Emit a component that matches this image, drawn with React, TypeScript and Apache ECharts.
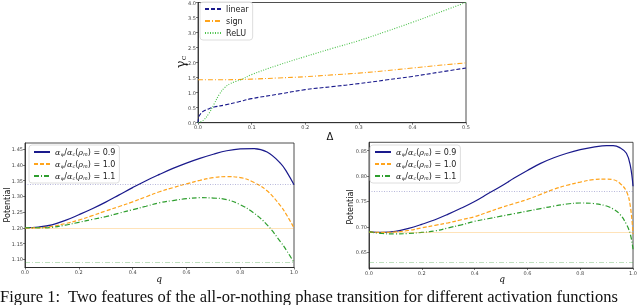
import React, { useEffect, useRef } from 'react';
import * as echarts from 'echarts';

// ---------- Top chart data (gamma_c vs Delta) ----------
const topNames = ['linear', 'sign', 'ReLU'];
const deltaLinear = [0, 0.002, 0.005, 0.01, 0.02, 0.03, 0.05, 0.075, 0.1, 0.15, 0.2, 0.25, 0.3, 0.35, 0.4, 0.45, 0.5];
const linearVals = [0.0, 0.22, 0.3, 0.38, 0.46, 0.52, 0.59, 0.69, 0.8, 0.95, 1.1, 1.2, 1.3, 1.42, 1.54, 1.68, 1.82];
const deltaSign = [0, 0.05, 0.1, 0.15, 0.2, 0.25, 0.3, 0.35, 0.4, 0.45, 0.5];
const signVals = [1.43, 1.43, 1.45, 1.49, 1.53, 1.59, 1.65, 1.73, 1.82, 1.91, 1.99];
const deltaRelu = [0, 0.01, 0.02, 0.03, 0.04, 0.05, 0.06, 0.07, 0.08, 0.1, 0.15, 0.2, 0.25, 0.3, 0.35, 0.4, 0.45, 0.5];
const reluVals = [0, 0.08, 0.3, 0.62, 0.95, 1.17, 1.3, 1.37, 1.43, 1.6, 1.92, 2.2, 2.47, 2.73, 3.03, 3.34, 3.67, 4.0];

// ---------- Bottom charts (Potential vs q) ----------
const ratios = ['0.9', '1.0', '1.1'];
const qLeft = [0, 0.05, 0.1, 0.15, 0.2, 0.25, 0.3, 0.35, 0.4, 0.45, 0.5, 0.55, 0.6, 0.65, 0.7, 0.75, 0.8, 0.85, 0.9, 0.95, 0.975, 1.0];
const leftBlue = [1.2, 1.203, 1.21, 1.224, 1.242, 1.261, 1.282, 1.305, 1.328, 1.35, 1.37, 1.389, 1.406, 1.421, 1.434, 1.445, 1.451, 1.452, 1.441, 1.405, 1.375, 1.337];
const leftOrange = [1.2, 1.201, 1.205, 1.214, 1.225, 1.239, 1.254, 1.268, 1.283, 1.299, 1.315, 1.328, 1.34, 1.351, 1.36, 1.363, 1.36, 1.345, 1.318, 1.27, 1.238, 1.2];
const leftGreen = [1.2, 1.2, 1.202, 1.209, 1.218, 1.227, 1.236, 1.247, 1.258, 1.269, 1.28, 1.287, 1.293, 1.296, 1.295, 1.29, 1.274, 1.248, 1.21, 1.156, 1.125, 1.09];
const leftLevels = [1.337, 1.2, 1.09];
const leftYTicks = [1.1, 1.15, 1.2, 1.25, 1.3, 1.35, 1.4, 1.45];

const qRight = [0, 0.05, 0.1, 0.15, 0.2, 0.25, 0.3, 0.35, 0.4, 0.45, 0.5, 0.55, 0.6, 0.65, 0.7, 0.75, 0.8, 0.85, 0.9, 0.925, 0.95, 0.975, 0.99, 1.0];
const rightBlue = [0.69, 0.689, 0.691, 0.697, 0.705, 0.714, 0.725, 0.737, 0.75, 0.765, 0.78, 0.796, 0.811, 0.825, 0.836, 0.845, 0.852, 0.857, 0.86, 0.86, 0.856, 0.845, 0.82, 0.78];
const rightOrange = [0.69, 0.689, 0.69, 0.693, 0.698, 0.703, 0.708, 0.714, 0.72, 0.729, 0.738, 0.746, 0.754, 0.764, 0.774, 0.782, 0.788, 0.793, 0.794, 0.793, 0.786, 0.77, 0.74, 0.686];
const rightGreen = [0.69, 0.687, 0.686, 0.687, 0.689, 0.692, 0.698, 0.704, 0.711, 0.716, 0.721, 0.726, 0.731, 0.736, 0.741, 0.745, 0.747, 0.746, 0.741, 0.735, 0.725, 0.705, 0.685, 0.656];
const rightLevels = [0.769, 0.69, 0.63];
const rightYTicks = [0.65, 0.7, 0.75, 0.8, 0.85];

const CAPTION = 'Figure 1:  Two features of the all-or-nothing phase transition for different activation functions';

const NAVY = '#1a1a8c';
const ORANGE = '#ffa41c';
const GREEN = '#2e9e2e';
const GREEN_LIGHT = '#4cc24c';

const DASH = [4, 2];
const DASHDOT = [5, 2, 1, 2];
const DOT = [1, 1.5];

const zip = (xs: number[], ys: number[]) => xs.map((x, i) => [x, ys[i]]);
const ratioName = (r: string) => `αψ/αc(ρm) = ${r}`;

const tickLabel = (digits: number) => ({
  fontSize: 5,
  color: '#444',
  margin: 2,
  fontFamily: 'DejaVu Sans',
  formatter: (v: number) => v.toFixed(digits),
});

export default function App() {
  const ref = useRef<HTMLDivElement>(null);
  useEffect(() => {
    document.body.style.margin = '0';
    const chart = echarts.init(ref.current!, null, { renderer: 'svg' });
    const axisLine = { show: true, lineStyle: { color: '#222', width: 0.8 } };
    const axisTick = { show: true, length: 2, lineStyle: { color: '#222', width: 0.6 } };
    const gridBox = { show: true, borderColor: '#222', borderWidth: 0.8, containLabel: false };

    const legendCommon = {
      orient: 'vertical' as const,
      backgroundColor: 'rgba(255,255,255,0.85)',
      borderColor: '#d6d6d6',
      borderWidth: 0.8,
      borderRadius: 3,
      itemWidth: 16,
      itemHeight: 8,
      itemGap: 4,
      padding: [3, 4, 3, 4],
      itemStyle: { opacity: 0, borderWidth: 0 },
    };
    const ratioLegendText = {
      fontSize: 8,
      color: '#222',
      fontFamily: 'DejaVu Sans',
      rich: {
        i: { fontSize: 8, fontStyle: 'italic', fontFamily: 'DejaVu Serif', verticalAlign: 'bottom' },
        s: { fontSize: 5, fontStyle: 'italic', fontFamily: 'DejaVu Serif', verticalAlign: 'bottom' },
        n: { fontSize: 8, fontFamily: 'DejaVu Sans', verticalAlign: 'bottom' },
      },
    };
    const ratioFormatter = (name: string) => {
      const r = name.split('= ')[1];
      return `{i|α}{s|ψ}{n|/}{i|α}{s|c}{n|(}{i|ρ}{s|m}{n|) = ${r}}`;
    };

    const curve = (name: string, xi: number, yi: number, data: number[][], color: string, type: any, width: number, level?: number, levelType?: any) => ({
      type: 'line',
      name,
      xAxisIndex: xi,
      yAxisIndex: yi,
      data,
      showSymbol: false,
      symbol: 'none',
      smooth: 0.4,
      lineStyle: { color, type, width },
      itemStyle: { color },
      markLine:
        level === undefined
          ? undefined
          : {
              silent: true,
              symbol: 'none',
              label: { show: false },
              lineStyle: { color, type: levelType, width: 0.9, opacity: 0.35 },
              data: [{ yAxis: level }],
            },
    });

    chart.setOption({
      animation: false,
      grid: [
        { left: 198, right: 174, top: 1.7, height: 121, ...gridBox },
        { left: 25, top: 143, width: 269, height: 124.5, ...gridBox },
        { left: 369, top: 142.3, width: 268, height: 125.7, ...gridBox },
      ],
      xAxis: [
        { type: 'value', gridIndex: 0, min: 0, max: 0.5, interval: 0.1, axisLine, axisTick, splitLine: { show: false }, axisLabel: tickLabel(1) },
        { type: 'value', gridIndex: 1, min: 0, max: 1, interval: 0.2, axisLine, axisTick, splitLine: { show: false }, axisLabel: tickLabel(1) },
        { type: 'value', gridIndex: 2, min: 0, max: 1, interval: 0.2, axisLine, axisTick, splitLine: { show: false }, axisLabel: tickLabel(1) },
      ],
      yAxis: [
        { type: 'value', gridIndex: 0, min: 0, max: 4, interval: 0.5, axisLine, axisTick, splitLine: { show: false }, axisLabel: tickLabel(1) },
        {
          type: 'value', gridIndex: 1, min: 1.0745, max: 1.4697, axisLine,
          axisTick: { ...axisTick, customValues: leftYTicks },
          splitLine: { show: false },
          axisLabel: { ...tickLabel(2), customValues: leftYTicks },
        },
        {
          type: 'value', gridIndex: 2, min: 0.619, max: 0.8665, axisLine,
          axisTick: { ...axisTick, customValues: rightYTicks },
          splitLine: { show: false },
          axisLabel: { ...tickLabel(2), customValues: rightYTicks },
        },
      ],
      legend: [
        { ...legendCommon, left: 200, top: 2, data: topNames, textStyle: { fontSize: 8, color: '#222', fontFamily: 'DejaVu Sans' } },
        { ...legendCommon, left: 29, top: 145, data: ratios.map(ratioName), formatter: ratioFormatter, textStyle: ratioLegendText, itemHeight: 9 },
        { ...legendCommon, left: 370, top: 145, data: ratios.map(ratioName), formatter: ratioFormatter, textStyle: ratioLegendText, itemHeight: 9 },
      ],
      series: [
        curve(topNames[0], 0, 0, zip(deltaLinear, linearVals), NAVY, DASH, 1.1),
        curve(topNames[1], 0, 0, zip(deltaSign, signVals), ORANGE, DASHDOT, 1.1),
        curve(topNames[2], 0, 0, zip(deltaRelu, reluVals), GREEN_LIGHT, DOT, 1.1),
        curve(ratioName(ratios[0]), 1, 1, zip(qLeft, leftBlue), NAVY, 'solid', 1.2, leftLevels[0], DOT),
        curve(ratioName(ratios[1]), 1, 1, zip(qLeft, leftOrange), ORANGE, DASH, 1.2, leftLevels[1], 'solid'),
        curve(ratioName(ratios[2]), 1, 1, zip(qLeft, leftGreen), GREEN, DASHDOT, 1.2, leftLevels[2], DASHDOT),
        curve(ratioName(ratios[0]), 2, 2, zip(qRight, rightBlue), NAVY, 'solid', 1.2, rightLevels[0], DOT),
        curve(ratioName(ratios[1]), 2, 2, zip(qRight, rightOrange), ORANGE, DASH, 1.2, rightLevels[1], 'solid'),
        curve(ratioName(ratios[2]), 2, 2, zip(qRight, rightGreen), GREEN, DASHDOT, 1.2, rightLevels[2], DASHDOT),
      ],
      graphic: [
        {
          type: 'text', x: 180, y: 62, rotation: Math.PI / 2,
          style: {
            text: '{g|γ}{s|c}', align: 'center', verticalAlign: 'middle', fill: '#111',
            rich: { g: { fontSize: 13, fontFamily: 'DejaVu Serif', fill: '#111' }, s: { fontSize: 8, fontFamily: 'DejaVu Serif', fill: '#111', padding: [7, 0, 0, 0] } },
          },
        },
        { type: 'text', x: 330, y: 136, style: { text: 'Δ', fontSize: 10, fontFamily: 'DejaVu Sans', align: 'center', verticalAlign: 'middle', fill: '#111' } },
        { type: 'text', x: 7, y: 205, rotation: Math.PI / 2, style: { text: 'Potential', fontSize: 8, fontFamily: 'DejaVu Sans', align: 'center', verticalAlign: 'middle', fill: '#111' } },
        { type: 'text', x: 350, y: 207, rotation: Math.PI / 2, style: { text: 'Potential', fontSize: 8, fontFamily: 'DejaVu Sans', align: 'center', verticalAlign: 'middle', fill: '#111' } },
        { type: 'text', x: 159, y: 279, style: { text: 'q', fontSize: 9, fontStyle: 'italic', fontFamily: 'DejaVu Serif', align: 'center', verticalAlign: 'middle', fill: '#111' } },
        { type: 'text', x: 502, y: 279, style: { text: 'q', fontSize: 9, fontStyle: 'italic', fontFamily: 'DejaVu Serif', align: 'center', verticalAlign: 'middle', fill: '#111' } },
        { type: 'text', x: 0, y: 288, style: { text: CAPTION, fontSize: 16.5, fontFamily: 'Liberation Serif', align: 'left', verticalAlign: 'top', fill: '#111' } },
      ],
    });
    return () => chart.dispose();
  }, []);
  return <div ref={ref} style={{ position: 'fixed', left: 0, top: 0, width: 640, height: 305 }} />;
}
